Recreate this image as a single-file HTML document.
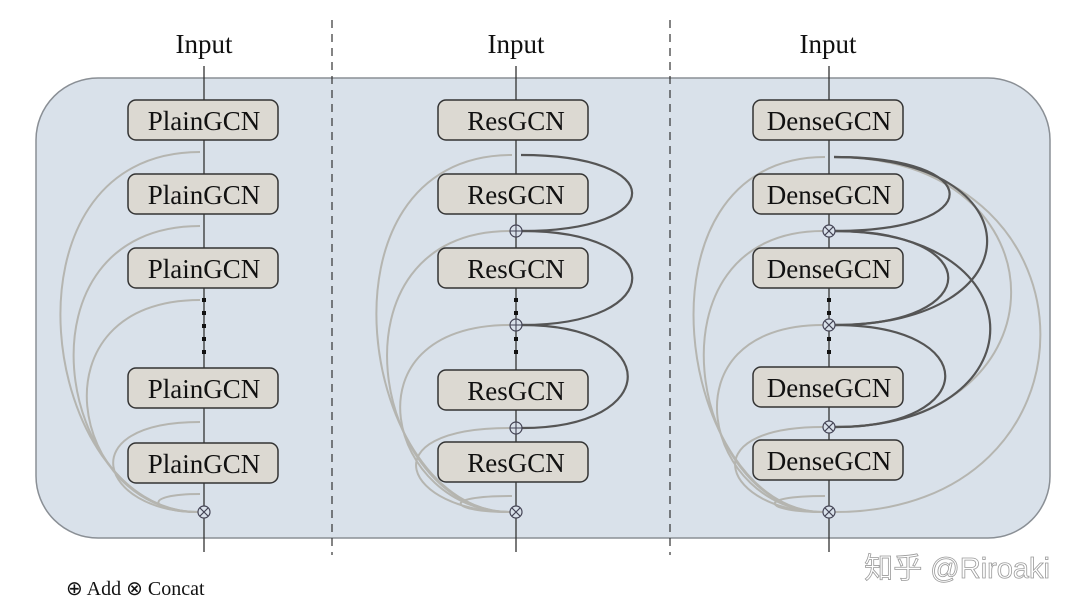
<!DOCTYPE html>
<html><head><meta charset="utf-8"><style>
html,body{margin:0;padding:0;background:#fff;width:1080px;height:610px;overflow:hidden}
text{font-family:"Liberation Serif",serif}
</style></head><body>
<svg width="1080" height="610" viewBox="0 0 1080 610" xmlns="http://www.w3.org/2000/svg">
<rect x="36" y="78" width="1014" height="460" rx="62" fill="#d9e1ea" stroke="#8a8f95" stroke-width="1.5"/>
<line x1="332" y1="20" x2="332" y2="555" stroke="#333" stroke-width="1.2" stroke-dasharray="8,6"/>
<line x1="670" y1="20" x2="670" y2="555" stroke="#333" stroke-width="1.2" stroke-dasharray="8,6"/>
<g font-size="27" text-anchor="middle" fill="#111">
<text x="204" y="53">Input</text><text x="516" y="53">Input</text><text x="828" y="53">Input</text>
</g>
<g stroke="#333" stroke-width="1.3">
<line x1="204" y1="66" x2="204" y2="552"/>
<line x1="516" y1="66" x2="516" y2="552"/>
<line x1="829" y1="66" x2="829" y2="552"/>
</g>
<g fill="none" stroke="#b5b5b0" stroke-width="2">
<path d="M200 152 C-10 152 40 512 198 512"/>
<path d="M200 226 C10 226 55 512 198 512"/>
<path d="M200 300 C30 300 70 512 198 512"/>
<path d="M200 422 C70 422 100 512 198 512"/>
<path d="M200 494 C140 494 150 512 198 512"/>
<path d="M512 155 C305 155 360 512 510 512"/>
<path d="M510 231 C322 231 372 512 510 512"/>
<path d="M510 325 C341 325 388 512 510 512"/>
<path d="M510 428 C366 428 405 512 510 512"/>
<path d="M512 496 C438 496 450 512 510 512"/>
<path d="M825 157 C624 157 678 512 823 512"/>
<path d="M823 231 C640 231 690 512 823 512"/>
<path d="M823 325 C660 325 705 512 823 512"/>
<path d="M823 427 C688 427 725 512 823 512"/>
<path d="M825 496 C752 496 765 512 823 512"/>
<path d="M834 157 C1109 157 1109 512 835 512"/>
<path d="M834 157 C1070 157 1070 427 835 427"/>
</g>
<g fill="none" stroke="#555" stroke-width="2.2">
<path d="M521 155 C669 155 669 231 522 231"/>
<path d="M522 231 C669 231 669 325 522 325"/>
<path d="M522 325 C663 325 663 428 522 428"/>
<path d="M834 157 C988 157 988 231 835 231"/>
<path d="M834 157 C1038 157 1038 325 835 325"/>
<path d="M835 231 C986 231 986 325 835 325"/>
<path d="M835 231 C1042 231 1042 427 835 427"/>
<path d="M835 325 C982 325 982 427 835 427"/>
</g>
<g fill="#dcd9d2" stroke="#333" stroke-width="1.5">
<rect x="128" y="100" width="150" height="40" rx="8"/><rect x="128" y="174" width="150" height="40" rx="8"/>
<rect x="128" y="248" width="150" height="40" rx="8"/><rect x="128" y="368" width="150" height="40" rx="8"/>
<rect x="128" y="443" width="150" height="40" rx="8"/>
<rect x="438" y="100" width="150" height="40" rx="8"/><rect x="438" y="174" width="150" height="40" rx="8"/>
<rect x="438" y="248" width="150" height="40" rx="8"/><rect x="438" y="370" width="150" height="40" rx="8"/>
<rect x="438" y="442" width="150" height="40" rx="8"/>
<rect x="753" y="100" width="150" height="40" rx="8"/><rect x="753" y="174" width="150" height="40" rx="8"/>
<rect x="753" y="248" width="150" height="40" rx="8"/><rect x="753" y="367" width="150" height="40" rx="8"/>
<rect x="753" y="440" width="150" height="40" rx="8"/>
</g>
<g font-size="27" text-anchor="middle" fill="#111">
<text x="204" y="130">PlainGCN</text><text x="204" y="204">PlainGCN</text><text x="204" y="278">PlainGCN</text><text x="204" y="398">PlainGCN</text><text x="204" y="473">PlainGCN</text>
<text x="516" y="130">ResGCN</text><text x="516" y="204">ResGCN</text><text x="516" y="278">ResGCN</text><text x="516" y="400">ResGCN</text><text x="516" y="472">ResGCN</text>
<text x="829" y="130">DenseGCN</text><text x="829" y="204">DenseGCN</text><text x="829" y="278">DenseGCN</text><text x="829" y="397">DenseGCN</text><text x="829" y="470">DenseGCN</text>
</g>
<g fill="#111">
<rect x="202" y="298" width="4" height="4"/><rect x="202" y="311" width="4" height="4"/><rect x="202" y="324" width="4" height="4"/><rect x="202" y="337" width="4" height="4"/><rect x="202" y="350" width="4" height="4"/>
<rect x="514" y="298" width="4" height="4"/><rect x="514" y="311" width="4" height="4"/><rect x="514" y="337" width="4" height="4"/><rect x="514" y="350" width="4" height="4"/>
<rect x="827" y="298" width="4" height="4"/><rect x="827" y="311" width="4" height="4"/><rect x="827" y="337" width="4" height="4"/><rect x="827" y="350" width="4" height="4"/>
</g>
<g fill="#d9e1ea" stroke="#445" stroke-width="1.2">
<circle cx="204" cy="512" r="6"/><circle cx="516" cy="512" r="6"/><circle cx="829" cy="512" r="6"/>
<circle cx="516" cy="231" r="6"/><circle cx="516" cy="325" r="6"/><circle cx="516" cy="428" r="6"/>
<circle cx="829" cy="231" r="6"/><circle cx="829" cy="325" r="6"/><circle cx="829" cy="427" r="6"/>
</g>
<g stroke="#445" stroke-width="1.1">
<path d="M199.8 507.8 L208.2 516.2 M208.2 507.8 L199.8 516.2"/>
<path d="M511.8 507.8 L520.2 516.2 M520.2 507.8 L511.8 516.2"/>
<path d="M824.8 507.8 L833.2 516.2 M833.2 507.8 L824.8 516.2"/>
<path d="M824.8 226.8 L833.2 235.2 M833.2 226.8 L824.8 235.2"/>
<path d="M824.8 320.8 L833.2 329.2 M833.2 320.8 L824.8 329.2"/>
<path d="M824.8 422.8 L833.2 431.2 M833.2 422.8 L824.8 431.2"/>
<path d="M510 231 H522 M516 225 V237"/>
<path d="M510 325 H522 M516 319 V331"/>
<path d="M510 428 H522 M516 422 V434"/>
</g>
<text x="66" y="595" font-size="20" fill="#111">⊕ Add  ⊗ Concat</text>
<text x="1050" y="578" font-size="29" text-anchor="end" fill="#fff" stroke="#9a9a9a" stroke-width="0.8" style='font-family:"Liberation Sans","Noto Sans CJK SC",sans-serif'>知乎 @Riroaki</text>
</svg>
</body></html>
